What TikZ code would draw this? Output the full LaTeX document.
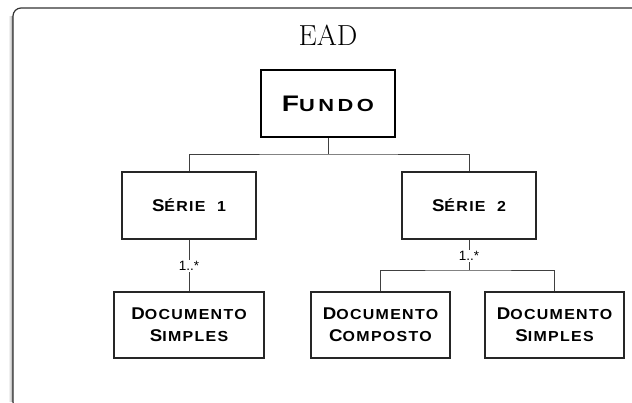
\documentclass[tikz,border=0pt]{standalone}
\usepackage{fontspec}
\usepackage{tikz}
\newfontfamily\cpfont[FakeStretch=1.1,LetterSpace=9]{Liberation Sans}
\newfontfamily\cpfontbig[FakeStretch=1.25,LetterSpace=20]{Liberation Sans}
\newfontfamily\lblfont{Liberation Sans}
\newcommand{\cp}[2]{{\fontsize{17}{22}\selectfont #1}{\fontsize{14.5}{22}\selectfont #2}}
\newcommand{\cpbig}[2]{{\fontsize{22.5}{26}\selectfont #1}{\fontsize{17.5}{26}\selectfont #2}}
\tikzset{caixa/.style={draw=black!85,line width=1.2pt,inner sep=0pt,
  align=center,font=\cpfont\bfseries\fontsize{14.5}{22}\selectfont}}
\tikzset{mult/.style={fill=white,inner sep=1.5pt,font=\lblfont\fontsize{13.5}{14}\selectfont}}
\tikzset{liga/.style={draw=black!75,line width=1pt}}

\begin{document}
\begin{tikzpicture}[x=1pt,y=-1pt]
      \useasboundingbox (0,0) rectangle (632,402);
      % moldura com sombra a esquerda
      \foreach \i/\o in {1/.35,2/.22,3/.12,4/.06}
        \draw [black,opacity=\o,line width=1pt] (13-\i,16) -- (13-\i,402);
      \draw [black!80,line width=1.2pt,rounded corners=8pt] (13,8) rectangle (645,410);
      \node (ead) at (328,35) {\fontsize{29}{30}\selectfont EAD};
      \node [caixa,line width=2.3pt,draw=black,minimum width=134pt,minimum height=67pt,
        font=\cpfontbig\bfseries] (fundo) at (328,103.5) {\cpbig{F}{UNDO}};
      \node [caixa,minimum width=134pt,minimum height=67pt] (serie1) at (189,205.5) {\cp{S}{ÉRIE\ \ 1}};
      \node [caixa,minimum width=134pt,minimum height=67pt] (serie2) at (469,205.5) {\cp{S}{ÉRIE\ \ 2}};
      \node [caixa,minimum width=150pt,minimum height=66pt] (docs1) at (189,325) {\cp{D}{OCUMENTO}\\\cp{S}{IMPLES}};
      \node [caixa,minimum width=139pt,minimum height=66pt] (docc) at (380.5,325) {\cp{D}{OCUMENTO}\\\cp{C}{OMPOSTO}};
      \node [caixa,minimum width=139pt,minimum height=66pt] (docs2) at (554.5,325) {\cp{D}{OCUMENTO}\\\cp{S}{IMPLES}};
      \node [mult] (mult1) at (189,266) {1..*};
      \node [mult] (mult2) at (469,256) {1..*};
      \coordinate (jf) at (328,154);
      \coordinate (js) at (469,270);
      \draw [liga] (fundo) -- (jf);
      \draw [liga] (serie1.north) |- (jf) -| (serie2.north);
      \draw [liga] (serie1) -- (mult1) -- (docs1);
      \draw [liga] (serie2) -- (mult2) -- (js);
      \draw [liga] (docc.north) |- (js) -| (docs2.north);
    \end{tikzpicture}
\end{document}
